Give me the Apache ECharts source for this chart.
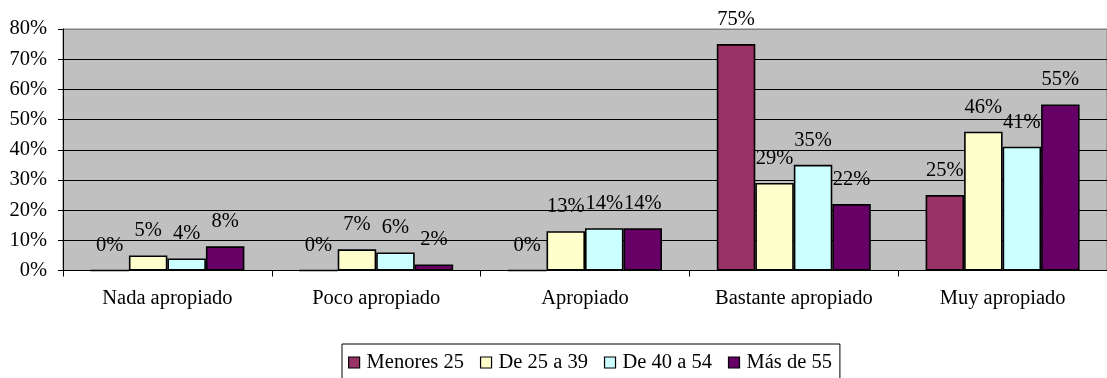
<!DOCTYPE html>
<html>
<head>
<meta charset="utf-8">
<script src="https://cdn.jsdelivr.net/npm/echarts@6/dist/echarts.min.js"></script>
<style>
  html, body { margin: 0; padding: 0; background: #ffffff; }
  #chart { width: 1107px; height: 378px; }
</style>
</head>
<body>
<div id="chart"></div>
<script>
// Grupos de edad y grado de adecuación (porcentajes)
const categories = ['Nada apropiado', 'Poco apropiado', 'Apropiado', 'Bastante apropiado', 'Muy apropiado'];
const seriesNames = ['Menores 25', 'De 25 a 39', 'De 40 a 54', 'Más de 55'];
const menores25 = [0, 0, 0, 75, 25];
const de25a39 = [5, 7, 13, 29, 46];
const de40a54 = [4, 6, 14, 35, 41];
const masDe55 = [8, 2, 14, 22, 55];
const seriesColors = ['#993366', '#FFFFCC', '#CCFFFF', '#660066'];

const FONT = '"Liberation Serif", "Times New Roman", serif';
const FS = 20.5;

const chart = echarts.init(document.getElementById('chart'), null, { renderer: 'canvas' });

const values = [menores25, de25a39, de40a54, masDe55];
const series = seriesNames.map((name, i) => ({
  name: name,
  type: 'bar',
  data: values[i],
  barWidth: 38.5,
  barGap: '0%',
  itemStyle: { color: seriesColors[i], borderColor: '#000000', borderWidth: 1.6 },
  label: {
    show: true,
    position: 'top',
    distance: 14,
    formatter: p => p.value + '%',
    fontFamily: FONT,
    fontSize: FS,
    color: '#000000'
  }
}));

chart.setOption({
  animation: false,
  backgroundColor: '#ffffff',
  grid: {
    left: 63,
    top: 29,
    width: 1055,
    height: 241.5,
    show: true,
    backgroundColor: '#C0C0C0',
    borderColor: '#808080',
    borderWidth: 1
  },
  legend: {
    left: 342,
    top: 344,
    orient: 'horizontal',
    backgroundColor: '#ffffff',
    borderColor: '#000000',
    borderWidth: 1,
    padding: [8, 8, 12, 6],
    itemWidth: 11,
    itemHeight: 11,
    itemGap: 16,
    icon: 'rect',
    itemStyle: { borderColor: '#000000', borderWidth: 1.2 },
    textStyle: { fontFamily: FONT, fontSize: FS, color: '#000000', padding: [0, 0, 0, 2] },
    data: seriesNames
  },
  xAxis: {
    type: 'category',
    data: categories,
    axisLine: { show: true, lineStyle: { color: '#000000', width: 1 } },
    axisTick: { show: true, length: 6, alignWithLabel: false, lineStyle: { color: '#000000' } },
    axisLabel: { fontFamily: FONT, fontSize: FS, color: '#000000', margin: 18 },
    splitLine: { show: false }
  },
  yAxis: {
    type: 'value',
    min: 0,
    max: 80,
    interval: 10,
    axisLine: { show: true, lineStyle: { color: '#000000', width: 1 } },
    axisTick: { show: true, length: 5, inside: false, lineStyle: { color: '#000000' } },
    axisLabel: { fontFamily: FONT, fontSize: FS, color: '#000000', margin: 16, formatter: '{value}%' },
    splitLine: {
      show: true,
      lineStyle: {
        color: ['#000000', '#000000', '#000000', '#000000', '#000000', '#000000', '#000000', '#000000', '#808080'],
        width: 1
      }
    }
  },
  series: series
});
</script>
</body>
</html>
